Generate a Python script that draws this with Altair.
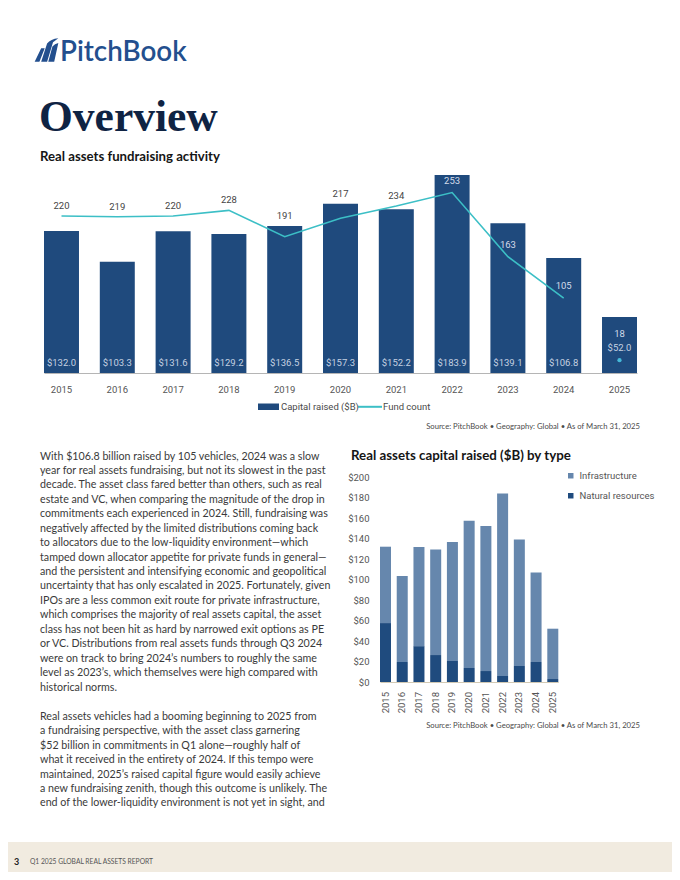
import altair as alt
import pandas as pd

# ---------------- data ----------------
years = ["2015", "2016", "2017", "2018", "2019", "2020", "2021", "2022", "2023", "2024", "2025"]
capital_raised = [132.0, 103.3, 131.6, 129.2, 136.5, 157.3, 152.2, 183.9, 139.1, 106.8, 52.0]
fund_count = [220, 219, 220, 228, 191, 217, 234, 253, 163, 105, 18]
natural_resources = [57.5, 19.5, 35.0, 26.3, 20.5, 13.7, 10.7, 5.9, 15.6, 19.5, 2.9]
infrastructure = [74.5, 83.8, 96.6, 102.9, 116.0, 143.6, 141.5, 178.0, 123.5, 87.3, 49.1]
types = ["Infrastructure", "Natural resources"]
y2_ticks = [0, 20, 40, 60, 80, 100, 120, 140, 160, 180, 200]

logo_text = "PitchBook"
page_title = "Overview"
chart1_title = "Real assets fundraising activity"
chart2_title = "Real assets capital raised ($B) by type"
legend1_labels = ["Capital raised ($B)", "Fund count"]
source_text = "Source: PitchBook  \u2022  Geography: Global  \u2022  As of March 31, 2025"
footer_page = "3"
footer_text = "Q1 2025 GLOBAL REAL ASSETS REPORT"
body_para1 = [
    "With $106.8 billion raised by 105 vehicles, 2024 was a slow",
    "year for real assets fundraising, but not its slowest in the past",
    "decade. The asset class fared better than others, such as real",
    "estate and VC, when comparing the magnitude of the drop in",
    "commitments each experienced in 2024. Still, fundraising was",
    "negatively affected by the limited distributions coming back",
    "to allocators due to the low-liquidity environment\u2014which",
    "tamped down allocator appetite for private funds in general\u2014",
    "and the persistent and intensifying economic and geopolitical",
    "uncertainty that has only escalated in 2025. Fortunately, given",
    "IPOs are a less common exit route for private infrastructure,",
    "which comprises the majority of real assets capital, the asset",
    "class has not been hit as hard by narrowed exit options as PE",
    "or VC. Distributions from real assets funds through Q3 2024",
    "were on track to bring 2024\u2019s numbers to roughly the same",
    "level as 2023\u2019s, which themselves were high compared with",
    "historical norms.",
]
body_para2 = [
    "Real assets vehicles had a booming beginning to 2025 from",
    "a fundraising perspective, with the asset class garnering",
    "$52 billion in commitments in Q1 alone\u2014roughly half of",
    "what it received in the entirety of 2024. If this tempo were",
    "maintained, 2025\u2019s raised capital figure would easily achieve",
    "a new fundraising zenith, though this outcome is unlikely. The",
    "end of the lower-liquidity environment is not yet in sight, and",
]

# ---------------- layout helpers ----------------
W, H = 664, 864


def px(v):
    """page pixel -> chart pixel (page has 8px margin)"""
    return v - 8


NAVY = "#1f4a7d"
TEAL = "#3cbfc6"
INFRA = "#6687ad"
NATRES = "#1f4b7e"
LABEL_FONT = "Liberation Sans Narrow, Roboto, sans-serif"
TEXT_FONT = "Lato"
GRAY = "#4a4a4a"

df1 = pd.DataFrame({"year": years, "capital": capital_raised, "count": fund_count})
df2 = pd.DataFrame(
    [{"year": y, "type": types[1], "value": n, "ord": 0} for y, n in zip(years, natural_resources)]
    + [{"year": y, "type": types[0], "value": i, "ord": 1} for y, i in zip(years, infrastructure)]
)
one = pd.DataFrame({"k": [0]})

# chart 1 scales
x1_band = alt.Scale(type="band", domain=years, range=[px(44), px(637)], paddingInner=0.373, paddingOuter=0)
x1_pt = alt.Scale(type="point", domain=years, range=[px(61.5), px(619.5)], padding=0)
y1_cap = alt.Scale(domain=[0, 200], range=[px(373), px(157.7)], nice=False, zero=True)
y1_cnt = alt.Scale(domain=[0, 300], range=[px(373), px(159)], nice=False, zero=True)

bars1 = alt.Chart(df1).mark_bar(color=NAVY).encode(
    x=alt.X("year:O", scale=x1_band, title=None,
            axis=alt.Axis(orient="bottom", offset=px(373) - H, ticks=False, tickSize=0,
                          labelPadding=11, labelAngle=0, labelFont=LABEL_FONT, labelFontSize=9.5,
                          labelColor="#555555", domainColor="#b5b5b5", domainWidth=1, grid=False)),
    y=alt.Y("capital:Q", scale=y1_cap, axis=None),
)

cap_labels = alt.Chart(df1).transform_filter("datum.year != '2025'").transform_calculate(
    lab="'$' + format(datum.capital, '.1f')"
).mark_text(font=LABEL_FONT, fontSize=9.5, color="#c5d1e1", baseline="middle", dy=-10).encode(
    x=alt.X("year:O", scale=x1_pt, axis=None),
    y=alt.YDatum(0, scale=y1_cap, axis=None),
    text="lab:N",
)

cap_label_25 = alt.Chart(df1).transform_filter("datum.year == '2025'").transform_calculate(
    lab="'$' + format(datum.capital, '.1f')"
).mark_text(font=LABEL_FONT, fontSize=9.5, color="#c5d1e1", baseline="middle", dy=-25).encode(
    x=alt.X("year:O", scale=x1_pt, axis=None),
    y=alt.YDatum(0, scale=y1_cap, axis=None),
    text="lab:N",
)

line1 = alt.Chart(df1).transform_filter("datum.year != '2025'").mark_line(
    color=TEAL, strokeWidth=1.6
).encode(
    x=alt.X("year:O", scale=x1_pt, axis=None),
    y=alt.Y("count:Q", scale=y1_cnt, axis=None),
)

dot25 = alt.Chart(df1).transform_filter("datum.year == '2025'").mark_circle(
    color="#45b8d8", size=18, opacity=1
).encode(
    x=alt.X("year:O", scale=x1_pt, axis=None),
    y=alt.Y("count:Q", scale=y1_cnt, axis=None),
)

cnt_out = alt.Chart(df1).transform_filter("toNumber(datum.year) <= 2021").transform_calculate(
    pos="max(datum.count, datum.capital * 1.509)"
).mark_text(font=LABEL_FONT, fontSize=9.5, color="#444444", baseline="middle", dy=-10).encode(
    x=alt.X("year:O", scale=x1_pt, axis=None),
    y=alt.Y("pos:Q", scale=y1_cnt, axis=None),
    text=alt.Text("count:Q", format="d"),
)

cnt_in = alt.Chart(df1).transform_filter(
    "toNumber(datum.year) >= 2022 && toNumber(datum.year) <= 2024"
).mark_text(font=LABEL_FONT, fontSize=9.5, color="#d3dcea", baseline="middle", dy=-12).encode(
    x=alt.X("year:O", scale=x1_pt, axis=None),
    y=alt.Y("count:Q", scale=y1_cnt, axis=None),
    text=alt.Text("count:Q", format="d"),
)

cnt_25 = alt.Chart(df1).transform_filter("datum.year == '2025'").mark_text(
    font=LABEL_FONT, fontSize=9.5, color="#d3dcea", baseline="middle", dy=-39
).encode(
    x=alt.X("year:O", scale=x1_pt, axis=None),
    y=alt.YDatum(0, scale=y1_cap, axis=None),
    text=alt.Text("count:Q", format="d"),
)

# chart 1 legend
leg_rect = alt.Chart(one).mark_rect(color=NAVY).encode(
    x=alt.value(px(258)), x2=alt.value(px(279)), y=alt.value(px(403.5)), y2=alt.value(px(410))
)
leg_rule = alt.Chart(one).mark_rule(color=TEAL, strokeWidth=2).encode(
    x=alt.value(px(358)), x2=alt.value(px(382)), y=alt.value(px(406.8))
)
leg_t1 = alt.Chart(one).mark_text(text=legend1_labels[0], font=LABEL_FONT, fontSize=9.5, color=GRAY,
                                  align="left", baseline="middle").encode(
    x=alt.value(px(281)), y=alt.value(px(406.8)))
leg_t2 = alt.Chart(one).mark_text(text=legend1_labels[1], font=LABEL_FONT, fontSize=9.5, color=GRAY,
                                  align="left", baseline="middle").encode(
    x=alt.value(px(383)), y=alt.value(px(406.8)))

src1 = alt.Chart(one).mark_text(text=source_text, font=TEXT_FONT, fontSize=7.7, color=GRAY,
                                align="right", baseline="middle").encode(
    x=alt.value(px(640)), y=alt.value(px(426.7)))

# chart 2
x2_band = alt.Scale(type="band", domain=years, range=[px(380), px(558.3)], paddingInner=0.342, paddingOuter=0)
y2 = alt.Scale(domain=[0, 200], range=[px(682), px(477)], nice=False, zero=True)

bars2 = alt.Chart(df2).mark_bar().encode(
    x=alt.X("year:O", scale=x2_band, title=None,
            axis=alt.Axis(orient="bottom", offset=px(682) - H, ticks=False, tickSize=0,
                          labelPadding=9.5, labelAngle=-90, labelFont=LABEL_FONT, labelFontSize=9.5,
                          labelColor="#555555", domainColor="#d2c9b4", domainWidth=1, grid=False)),
    y=alt.Y("value:Q", stack="zero", scale=y2, title=None,
            axis=alt.Axis(orient="left", offset=-px(372), values=y2_ticks, format="$.0f",
                          ticks=False, tickSize=0, domain=False, grid=False, labelPadding=3,
                          labelFont=LABEL_FONT, labelFontSize=9.5, labelColor="#555555")),
    color=alt.Color("type:N", scale=alt.Scale(domain=types, range=[INFRA, NATRES]),
                    legend=alt.Legend(orient="none", legendX=px(566), legendY=px(471), title=None,
                                      symbolType="square", symbolSize=30, symbolStrokeWidth=0,
                                      labelFont=LABEL_FONT, labelFontSize=9.5, labelColor="#555555",
                                      rowPadding=9, labelOffset=4)),
    order=alt.Order("ord:Q", sort="ascending"),
)

src2 = alt.Chart(one).mark_text(text=source_text, font=TEXT_FONT, fontSize=7.7, color=GRAY,
                                align="right", baseline="middle").encode(
    x=alt.value(px(640)), y=alt.value(px(725.7)))

# header texts
logo_icon = alt.Chart(one).mark_point(
    shape="M-1,1 L-0.45,-0.15 L-0.15,-0.15 L-0.6,1 Z M-0.45,1 L0.05,-0.55 Q0.35,-0.95 1,-1 L0.55,-0.65 L0.05,1 Z M0.15,1 L0.5,-0.3 Q0.7,-0.55 1,-0.6 L0.65,1 Z",
    filled=True, color="#234f8e", size=560, opacity=1, strokeWidth=0,
).encode(x=alt.value(px(46.5)), y=alt.value(px(50)))

logo = alt.Chart(one).mark_text(text=logo_text, font=TEXT_FONT, fontSize=27.8, fontWeight=600,
                                color="#234f8e", align="left", baseline="alphabetic").encode(
    x=alt.value(px(60)), y=alt.value(px(61)))

title = alt.Chart(one).mark_text(text=page_title, font="Liberation Serif", fontSize=43.5, fontWeight="bold",
                                 color="#0f2343", align="left", baseline="alphabetic").encode(
    x=alt.value(px(39)), y=alt.value(px(131)))

t1 = alt.Chart(one).mark_text(text=chart1_title, font=TEXT_FONT, fontSize=13.2, fontWeight="bold",
                              color="#151515", align="left", baseline="middle").encode(
    x=alt.value(px(40)), y=alt.value(px(157)))

t2 = alt.Chart(one).mark_text(text=chart2_title, font=TEXT_FONT, fontSize=13.3, fontWeight="bold",
                              color="#151515", align="left", baseline="middle").encode(
    x=alt.value(px(351)), y=alt.value(px(456)))

body1 = alt.Chart(one).mark_text(text=body_para1, font=TEXT_FONT, fontSize=10.7, lineHeight=14.44,
                                 color="#3a3a3a", align="left", baseline="alphabetic").encode(
    x=alt.value(px(40)), y=alt.value(px(459.5)))

body2 = alt.Chart(one).mark_text(text=body_para2, font=TEXT_FONT, fontSize=10.7, lineHeight=14.44,
                                 color="#3a3a3a", align="left", baseline="alphabetic").encode(
    x=alt.value(px(40)), y=alt.value(px(719.8)))

footer_bg = alt.Chart(one).mark_rect(color="#f1ebe0").encode(
    x=alt.value(0), x2=alt.value(W), y=alt.value(px(842)), y2=alt.value(H)
)
footer_num = alt.Chart(one).mark_text(text=footer_page, font=TEXT_FONT, fontSize=9, fontWeight="bold",
                                      color="#222222", align="left", baseline="middle").encode(
    x=alt.value(px(14)), y=alt.value(px(861.7)))
footer_t = alt.Chart(one).mark_text(text=footer_text, font=TEXT_FONT, fontSize=6.7, color="#555555",
                                    align="left", baseline="middle").encode(
    x=alt.value(px(30)), y=alt.value(px(861.7)))

chart = alt.layer(
    footer_bg, bars1, cap_labels, cap_label_25, line1, dot25, cnt_out, cnt_in, cnt_25,
    leg_rect, leg_rule, leg_t1, leg_t2, src1,
    bars2, src2,
    logo_icon, logo, title, t1, t2, body1, body2, footer_num, footer_t,
).resolve_scale(
    x="independent", y="independent", color="independent"
).properties(
    width=W, height=H, padding=0, autosize="none", background="white"
).configure_view(stroke=None)

chart.save("out.html", embed_options={"renderer": "svg", "actions": False})
